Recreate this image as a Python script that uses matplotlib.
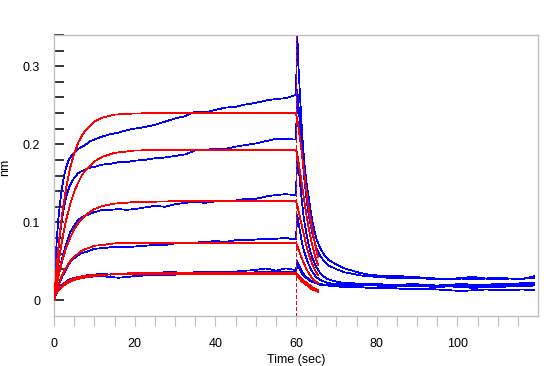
import matplotlib
matplotlib.use('agg')
import matplotlib.pyplot as plt
import numpy as np

plt.rcParams['font.family'] = ['Liberation Sans', 'DejaVu Sans']

# association phase, measured (blue)
t_assoc = [0, 0.3, 0.6, 1, 1.5, 2, 2.5, 3, 3.5, 4, 5, 6, 7, 8, 9, 10, 12, 14, 16, 18, 20,
           22.5, 25, 27.5, 30, 32.5, 35, 37.5, 40, 42.5, 45, 47.5, 50, 52.5, 55, 57.5, 59.8]
assoc_a = [-0.02, 0.03, 0.07, 0.10, 0.125, 0.145, 0.160, 0.170, 0.178, 0.183, 0.189, 0.194, 0.197,
           0.200, 0.204, 0.206, 0.210, 0.213, 0.215, 0.218, 0.220, 0.222, 0.225, 0.229, 0.233,
           0.236, 0.242, 0.241, 0.244, 0.247, 0.248, 0.251, 0.253, 0.256, 0.258, 0.259, 0.263]
assoc_b = [0.0, 0.02, 0.04, 0.06, 0.085, 0.105, 0.12, 0.132, 0.141, 0.148, 0.157, 0.163, 0.166,
           0.168, 0.17, 0.171, 0.174, 0.175, 0.177, 0.177, 0.179, 0.180, 0.182, 0.183, 0.185,
           0.187, 0.192, 0.193, 0.194, 0.194, 0.197, 0.199, 0.201, 0.204, 0.207, 0.207, 0.206]
assoc_c = [0.0, 0.01, 0.02, 0.03, 0.043, 0.053, 0.063, 0.072, 0.08, 0.087, 0.096, 0.103, 0.107,
           0.109, 0.111, 0.113, 0.116, 0.116, 0.117, 0.116, 0.117, 0.119, 0.121, 0.12, 0.123,
           0.125, 0.126, 0.125, 0.127, 0.128, 0.128, 0.130, 0.130, 0.133, 0.135, 0.136, 0.135]
assoc_d = [0.0, 0.007, 0.012, 0.017, 0.024, 0.030, 0.035, 0.040, 0.045, 0.049, 0.054, 0.058, 0.061,
           0.062, 0.064, 0.066, 0.067, 0.068, 0.068, 0.068, 0.069, 0.070, 0.071, 0.071, 0.073,
           0.074, 0.074, 0.075, 0.076, 0.075, 0.077, 0.077, 0.078, 0.079, 0.079, 0.080, 0.078]
assoc_e = [0.004, 0.008, 0.011, 0.014, 0.017, 0.020, 0.022, 0.024, 0.026, 0.027, 0.029, 0.030, 0.031,
           0.032, 0.033, 0.033, 0.034, 0.033, 0.034, 0.034, 0.035, 0.035, 0.035, 0.036, 0.036,
           0.035, 0.036, 0.036, 0.037, 0.036, 0.037, 0.038, 0.039, 0.041, 0.038, 0.041, 0.039]
assoc_f = [0.002, 0.006, 0.009, 0.012, 0.015, 0.018, 0.020, 0.022, 0.024, 0.025, 0.027, 0.028, 0.029,
           0.030, 0.030, 0.031, 0.031, 0.030, 0.029, 0.030, 0.031, 0.032, 0.032, 0.033, 0.033,
           0.034, 0.034, 0.034, 0.034, 0.035, 0.035, 0.035, 0.036, 0.036, 0.037, 0.036, 0.037]

# dissociation phase, measured (blue)
t_dissoc = [60, 60.3, 60.6, 61, 61.5, 62, 62.5, 63, 63.5, 64, 65, 66, 67, 68, 70, 72, 74, 76, 78,
            80, 83, 86, 89, 92, 95, 98, 101, 104, 107, 110, 113, 116, 119]
dissoc_a = [0.263, 0.345, 0.30, 0.262, 0.215, 0.180, 0.155, 0.137, 0.120, 0.103, 0.080, 0.067, 0.058,
            0.052, 0.046, 0.041, 0.038, 0.035, 0.033, 0.032, 0.031, 0.031, 0.030, 0.029, 0.028,
            0.027, 0.029, 0.030, 0.028, 0.029, 0.028, 0.027, 0.031]
dissoc_b = [0.206, 0.27, 0.25, 0.225, 0.19, 0.158, 0.135, 0.115, 0.100, 0.087, 0.068, 0.057, 0.050,
            0.045, 0.040, 0.036, 0.034, 0.032, 0.031, 0.030, 0.029, 0.029, 0.028, 0.028, 0.027,
            0.027, 0.028, 0.027, 0.028, 0.027, 0.028, 0.028, 0.029]
dissoc_c = [0.135, 0.19, 0.175, 0.15, 0.125, 0.103, 0.088, 0.075, 0.064, 0.055, 0.043, 0.035, 0.030,
            0.027, 0.024, 0.022, 0.022, 0.021, 0.021, 0.021, 0.020, 0.020, 0.021, 0.020, 0.019,
            0.020, 0.021, 0.020, 0.020, 0.021, 0.021, 0.022, 0.022]
dissoc_d = [0.078, 0.11, 0.10, 0.088, 0.074, 0.063, 0.055, 0.048, 0.042, 0.037, 0.030, 0.026, 0.024,
            0.022, 0.021, 0.020, 0.020, 0.019, 0.019, 0.019, 0.018, 0.019, 0.018, 0.018, 0.017,
            0.018, 0.017, 0.016, 0.017, 0.017, 0.018, 0.018, 0.019]
dissoc_e = [0.039, 0.05, 0.047, 0.042, 0.037, 0.033, 0.030, 0.028, 0.026, 0.025, 0.022, 0.020, 0.019,
            0.019, 0.018, 0.017, 0.017, 0.017, 0.016, 0.016, 0.016, 0.015, 0.015, 0.015, 0.014,
            0.013, 0.012, 0.013, 0.014, 0.013, 0.013, 0.014, 0.013]
dissoc_f = [0.037, 0.045, 0.043, 0.039, 0.034, 0.031, 0.029, 0.027, 0.025, 0.024, 0.022, 0.021, 0.020,
            0.020, 0.020, 0.019, 0.019, 0.019, 0.019, 0.019, 0.018, 0.018, 0.018, 0.018, 0.017,
            0.018, 0.019, 0.018, 0.018, 0.019, 0.019, 0.020, 0.020]

# fitted curves (red)
t_fit_assoc = [0, 0.5, 1, 1.5, 2, 3, 4, 5, 6, 7, 8, 10, 12, 15, 20, 30, 60]
fit_assoc_a = [0, 0.034, 0.063, 0.089, 0.110, 0.144, 0.170, 0.188, 0.202, 0.212, 0.219, 0.229, 0.234,
               0.238, 0.2395, 0.240, 0.240]
fit_assoc_b = [0, 0.023, 0.043, 0.061, 0.077, 0.103, 0.123, 0.139, 0.151, 0.161, 0.168, 0.178, 0.184,
               0.189, 0.192, 0.193, 0.193]
fit_assoc_c = [0, 0.015, 0.028, 0.040, 0.050, 0.067, 0.080, 0.091, 0.099, 0.105, 0.110, 0.117, 0.121,
               0.124, 0.126, 0.127, 0.127]
fit_assoc_d = [0, 0.010, 0.018, 0.026, 0.032, 0.042, 0.050, 0.056, 0.060, 0.064, 0.066, 0.070, 0.071,
               0.073, 0.0737, 0.074, 0.074]
fit_assoc_e = [0.005, 0.009, 0.012, 0.015, 0.0174, 0.0212, 0.024, 0.0261, 0.0276, 0.0288, 0.0296,
               0.0313, 0.0325, 0.0338, 0.0350, 0.0355, 0.0356]
fit_assoc_f = [0.004, 0.0085, 0.0125, 0.0158, 0.0185, 0.0230, 0.0260, 0.0283, 0.0298, 0.0309, 0.0317,
               0.0326, 0.0331, 0.0333, 0.0334, 0.0334, 0.0334]

t_fit_dissoc = [60, 60.5, 61, 61.5, 62, 62.5, 63, 63.5, 64, 64.5, 65, 65.5]
fit_dissoc_a = [0.240, 0.226, 0.207, 0.186, 0.164, 0.143, 0.124, 0.107, 0.092, 0.078, 0.065, 0.055]
fit_dissoc_b = [0.193, 0.181, 0.165, 0.147, 0.129, 0.112, 0.097, 0.083, 0.071, 0.061, 0.052, 0.045]
fit_dissoc_c = [0.127, 0.118, 0.106, 0.094, 0.083, 0.072, 0.062, 0.054, 0.047, 0.041, 0.036, 0.032]
fit_dissoc_d = [0.074, 0.067, 0.060, 0.053, 0.047, 0.041, 0.036, 0.032, 0.029, 0.026, 0.024, 0.022]
fit_dissoc_e = [0.0356, 0.033, 0.030, 0.027, 0.025, 0.023, 0.021, 0.019, 0.017, 0.016, 0.014, 0.013]
fit_dissoc_f = [0.0334, 0.030, 0.027, 0.024, 0.022, 0.020, 0.018, 0.016, 0.014, 0.013, 0.012, 0.011]

blue_assoc = [assoc_a, assoc_b, assoc_c, assoc_d, assoc_e, assoc_f]
blue_dissoc = [dissoc_a, dissoc_b, dissoc_c, dissoc_d, dissoc_e, dissoc_f]
red_assoc = [fit_assoc_a, fit_assoc_b, fit_assoc_c, fit_assoc_d, fit_assoc_e, fit_assoc_f]
red_dissoc = [fit_dissoc_a, fit_dissoc_b, fit_dissoc_c, fit_dissoc_d, fit_dissoc_e, fit_dissoc_f]

fig = plt.figure(figsize=(5.49, 3.66), dpi=100)
ax = fig.add_axes([54/549, 1-316/366, 484/549, 281/366])

lw = 0.55
for a, d in zip(blue_assoc, blue_dissoc):
    ax.plot(t_assoc + t_dissoc, a + d, color='#0000ff', lw=lw, antialiased=False, zorder=2)
for a, d in zip(red_assoc, red_dissoc):
    ax.plot(t_fit_assoc, a, color='#ff0000', lw=lw, antialiased=False, zorder=3)
    ax.plot(t_fit_dissoc, d, color='#ff0000', lw=lw, antialiased=False, zorder=3)

ax.axvline(60, color='#ff0000', lw=0.8, ls=(0, (3, 2)), antialiased=False, zorder=4)

ax.set_xlim(0, 120)
ax.set_ylim(-0.02, 0.34)

ax.set_xticks([0, 20, 40, 60, 80, 100])
ax.set_xticks(np.arange(0, 120, 5), minor=True)
ax.set_yticks([0, 0.1, 0.2, 0.3])
ax.set_yticklabels(['0', '0.1', '0.2', '0.3'])
ax.set_yticks(np.arange(0.02, 0.35, 0.02), minor=True)

ax.tick_params(axis='x', which='both', direction='out', length=7, width=0.8,
               color='#c0c0c0', labelsize=9, pad=9)
ax.tick_params(axis='y', which='both', direction='in', length=7, width=1.1,
               color='black', labelsize=9, pad=10)

for s in ax.spines.values():
    s.set_color('#c0c0c0')
    s.set_linewidth(1.0)

ax.set_xlabel('Time (sec)', fontsize=9, labelpad=3)
ax.set_ylabel('nm', fontsize=9)
ax.yaxis.set_label_coords(-0.089, 0.53)

fig.savefig('out.png', dpi=100)
